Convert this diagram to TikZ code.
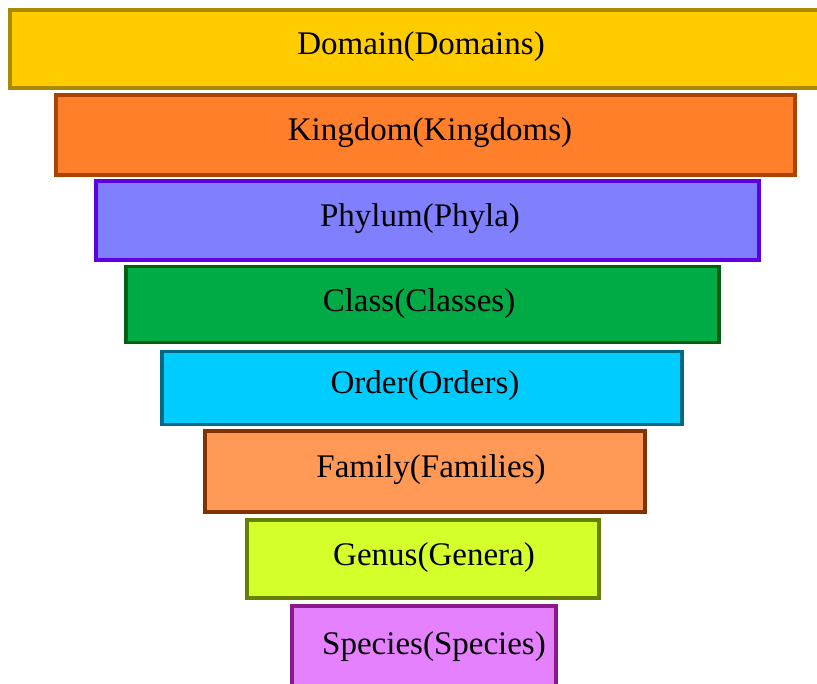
\documentclass[tikz,border=0pt]{standalone}
\usepackage{fontspec}
\setmainfont{Liberation Serif}
\definecolor{fDom}{HTML}{FFCC00}\definecolor{dDom}{HTML}{AA8800}
\definecolor{fKin}{HTML}{FF7F2A}\definecolor{dKin}{HTML}{AA4400}
\definecolor{fPhy}{HTML}{8080FF}\definecolor{dPhy}{HTML}{5F00E0}
\definecolor{fCla}{HTML}{00AA44}\definecolor{dCla}{HTML}{005F10}
\definecolor{fOrd}{HTML}{00CCFF}\definecolor{dOrd}{HTML}{006A85}
\definecolor{fFam}{HTML}{FF9955}\definecolor{dFam}{HTML}{803300}
\definecolor{fGen}{HTML}{D4FF2A}\definecolor{dGen}{HTML}{668000}
\definecolor{fSpe}{HTML}{E580FF}\definecolor{dSpe}{HTML}{8A1A8A}
\tikzset{
  tier/.style={draw, line width=3.4pt, inner sep=0pt, rectangle},
  lbl/.style={inner sep=0pt, font=\fontsize{33}{38}\selectfont, text=black}
}
\begin{document}
\begin{tikzpicture}[x=1pt,y=-1pt]
\useasboundingbox (0,0) rectangle (817,684);
\clip (0,0) rectangle (817,684);
\node[tier, fill=fDom, draw=dDom, minimum width=826pt, minimum height=78pt] (dom) at (423,49) {};
\node[tier, fill=fKin, draw=dKin, minimum width=739pt, minimum height=80pt] (kin) at (425.5,135) {};
\node[tier, fill=fPhy, draw=dPhy, minimum width=663pt, minimum height=79pt] (phy) at (427.5,220.5) {};
\node[tier, fill=fCla, draw=dCla, minimum width=593pt, minimum height=76pt] (cla) at (422.5,304.5) {};
\node[tier, fill=fOrd, draw=dOrd, minimum width=520pt, minimum height=73pt] (ord) at (422,388) {};
\node[tier, fill=fFam, draw=dFam, minimum width=440pt, minimum height=81pt] (fam) at (425,471.5) {};
\node[tier, fill=fGen, draw=dGen, minimum width=352pt, minimum height=78pt] (gen) at (423,559) {};
\node[tier, fill=fSpe, draw=dSpe, minimum width=264pt, minimum height=90pt] (spe) at (424,651) {};
\node[lbl] (tdom) at (421,47) {Domain(Domains)};
\node[lbl] (tkin) at (430,133) {Kingdom(Kingdoms)};
\node[lbl] (tphy) at (420,219) {Phylum(Phyla)};
\node[lbl] (tcla) at (419,304) {Class(Classes)};
\node[lbl] (tord) at (425,386) {Order(Orders)};
\node[lbl] (tfam) at (431,470) {Family(Families)};
\node[lbl] (tgen) at (434,558) {Genus(Genera)};
\node[lbl] (tspe) at (434,647) {Species(Species)};
\end{tikzpicture}
\end{document}
